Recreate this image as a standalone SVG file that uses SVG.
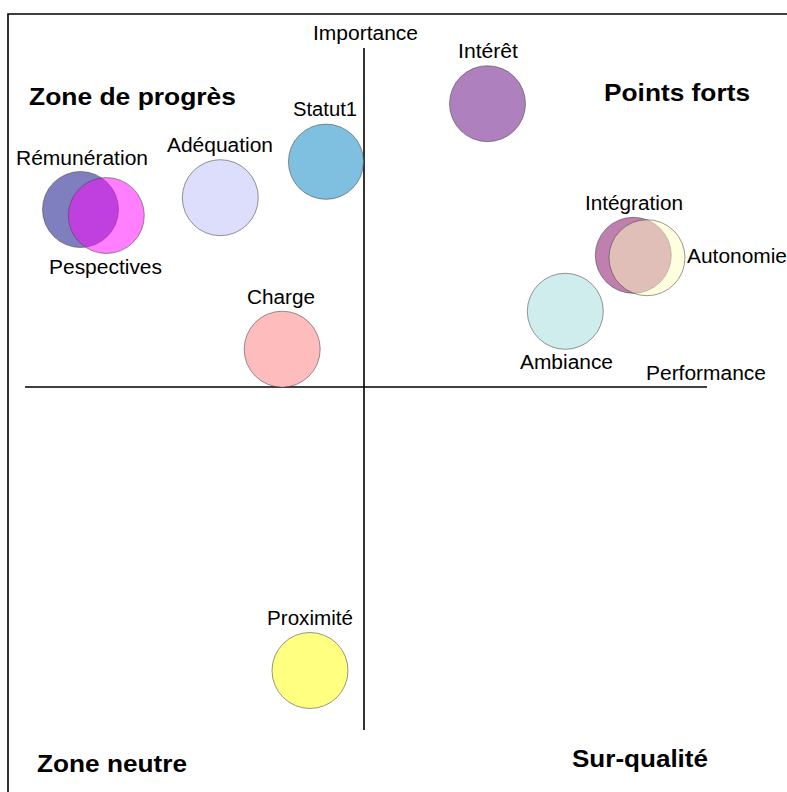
<svg xmlns="http://www.w3.org/2000/svg" width="787" height="792" viewBox="0 0 787 792">
<style>
.lbl{font-family:"Liberation Sans",Arial,sans-serif;font-size:20px;fill:#000}
.zone{font-family:"Liberation Sans",Arial,sans-serif;font-size:24px;font-weight:bold;fill:#000}
.c{stroke:#444;stroke-width:0.8;stroke-opacity:0.7}
.ln{stroke:#000;stroke-width:1.6;fill:none}
</style>
<rect width="787" height="792" fill="#fff"/>
<g id="frame">
<path class="ln" d="M8,792 V14 H787"/>
</g>
<g id="axes">
<line class="ln" x1="364" y1="48" x2="364" y2="730"/>
<line class="ln" x1="25" y1="387" x2="707" y2="387"/>
<text class="lbl" x="313" y="40" textLength="105" lengthAdjust="spacingAndGlyphs">Importance</text>
<text class="lbl" x="646" y="380" textLength="120" lengthAdjust="spacingAndGlyphs">Performance</text>
</g>
<g id="zones">
<text class="zone" x="29" y="105" textLength="207" lengthAdjust="spacingAndGlyphs">Zone de progrès</text>
<text class="zone" x="604" y="101" textLength="146" lengthAdjust="spacingAndGlyphs">Points forts</text>
<text class="zone" x="37" y="772" textLength="150" lengthAdjust="spacingAndGlyphs">Zone neutre</text>
<text class="zone" x="572" y="767" textLength="136" lengthAdjust="spacingAndGlyphs">Sur-qualité</text>
</g>
<g id="remuneration">
<circle class="c" cx="80.5" cy="209.5" r="38" fill="#000080" fill-opacity="0.5"/>
<text class="lbl" x="16" y="165" textLength="132" lengthAdjust="spacingAndGlyphs">Rémunération</text>
</g>
<g id="pespectives">
<circle class="c" cx="106.3" cy="215.5" r="38" fill="#ff00ff" fill-opacity="0.5"/>
<text class="lbl" x="49" y="274" textLength="113" lengthAdjust="spacingAndGlyphs">Pespectives</text>
</g>
<g id="adequation">
<circle class="c" cx="220.3" cy="197.7" r="38" fill="#ddddfc"/>
<text class="lbl" x="167" y="152" textLength="106" lengthAdjust="spacingAndGlyphs">Adéquation</text>
</g>
<g id="statut1">
<circle class="c" cx="326" cy="161.7" r="37.6" fill="#7fbfdf"/>
<text class="lbl" x="293" y="116" textLength="64" lengthAdjust="spacingAndGlyphs">Statut1</text>
</g>
<g id="charge">
<circle class="c" cx="282.2" cy="349.2" r="38" fill="#ffbcbc"/>
<text class="lbl" x="247" y="304" textLength="68" lengthAdjust="spacingAndGlyphs">Charge</text>
</g>
<g id="interet">
<circle class="c" cx="487.5" cy="103.7" r="38" fill="#ae80be"/>
<text class="lbl" x="458" y="58" textLength="60" lengthAdjust="spacingAndGlyphs">Intérêt</text>
</g>
<g id="integration">
<circle class="c" cx="633.3" cy="255.3" r="38" fill="#800060" fill-opacity="0.5"/>
<text class="lbl" x="585" y="210" textLength="98" lengthAdjust="spacingAndGlyphs">Intégration</text>
</g>
<g id="autonomie">
<circle class="c" cx="647" cy="257.7" r="38" fill="#ffffbf" fill-opacity="0.5"/>
<text class="lbl" x="687" y="263" textLength="100" lengthAdjust="spacingAndGlyphs">Autonomie</text>
</g>
<g id="ambiance">
<circle class="c" cx="565.3" cy="311.3" r="38" fill="#cfeded"/>
<text class="lbl" x="520" y="369" textLength="93" lengthAdjust="spacingAndGlyphs">Ambiance</text>
</g>
<g id="proximite">
<circle class="c" cx="310" cy="670.5" r="38" fill="#ffff80"/>
<text class="lbl" x="267" y="625" textLength="86" lengthAdjust="spacingAndGlyphs">Proximité</text>
</g>
</svg>
